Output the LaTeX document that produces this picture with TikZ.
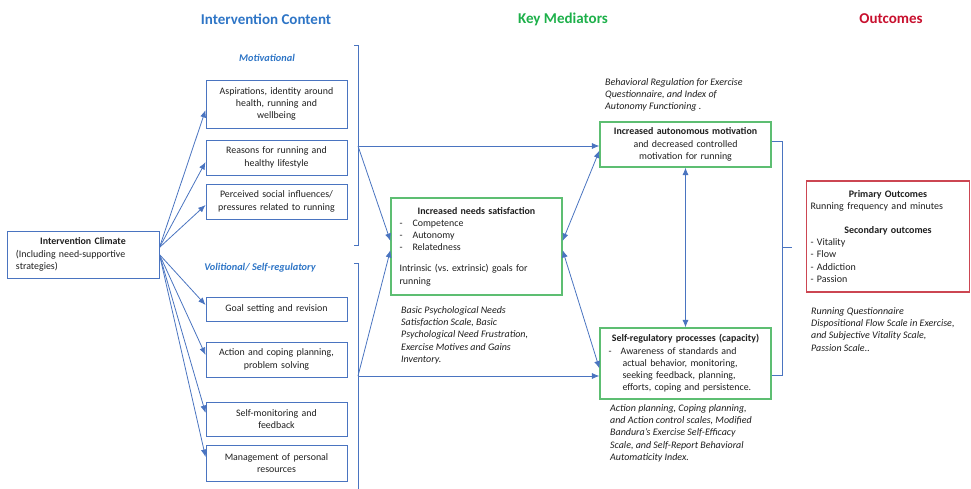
\documentclass[tikz,border=0pt]{standalone}
\usepackage{fontspec}
\setmainfont{Carlito}
\usetikzlibrary{arrows.meta,calc}
\definecolor{cblue}{HTML}{4A74C0}
\definecolor{tblue}{HTML}{2E75C6}
\definecolor{tgreen}{HTML}{1DB04A}
\definecolor{tred}{HTML}{C8102E}
\definecolor{gbord}{HTML}{5DBE72}
\definecolor{rbord}{HTML}{CC4652}
\definecolor{txt}{HTML}{1E1E1E}
\begin{document}
\begin{tikzpicture}[x=1pt,y=-1pt,
  box/.style={draw=cblue, line width=0.9pt, inner sep=0pt, align=center, text=txt,
    font=\fontsize{9.9}{12.3}\selectfont, minimum width=141pt, text width=136pt},
  gbox/.style={draw=gbord, line width=1.1pt, inner sep=0pt, text=txt,
    font=\fontsize{9.9}{12.2}\selectfont, minimum width=171pt, text width=154pt},
  rbox/.style={draw=rbord, line width=1.1pt, inner sep=0pt, text=txt,
    font=\fontsize{10}{12.4}\selectfont, minimum width=163pt, text width=155pt},
  note/.style={anchor=north west, align=left, inner sep=0pt, text=txt,
    font=\fontsize{10}{12.4}\selectfont\itshape},
  head/.style={font=\fontsize{15}{17}\selectfont\bfseries, inner sep=0pt},
  sub/.style={font=\fontsize{10.3}{12}\selectfont\bfseries\itshape, text=tblue, inner sep=0pt},
  con/.style={draw=cblue, line width=0.8pt},
  arr/.style={con, -{Latex[length=7.5pt,width=6pt]}},
  dbl/.style={con, {Latex[length=7.5pt,width=6pt]}-{Latex[length=7.5pt,width=6pt]}}
]
\useasboundingbox (0,0) rectangle (971,489);

% headings
\node[head, text=tblue] (h1) at (266,19) {Intervention Content};
\node[head, text=tgreen] (h2) at (563,19) {Key Mediators};
\node[head, text=tred] (h3) at (891,19) {Outcomes};

% intervention climate
\node[box, minimum width=152pt, minimum height=47pt, text width=134pt, align=left] (clim) at (83,254.5)
  {\makebox[\linewidth][c]{\bfseries Intervention Climate}\\(Including need-supportive\\strategies)};

% sub labels
\node[sub] (mot) at (267,58) {Motivational};
\node[sub] (vol) at (260,268) {Volitional/ Self-regulatory};

% motivational boxes
\node[box, minimum height=48pt] (a1) at (276.5,104) {Aspirations, identity around\\health, running and\\wellbeing};
\node[box, minimum height=35pt] (a2) at (276.5,157.5) {Reasons for running and\\healthy lifestyle};
\node[box, minimum height=35pt] (a3) at (276.5,201.5) {Perceived social influences/\\pressures related to running};

% volitional boxes
\node[box, minimum height=24pt] (b1) at (276.5,309) {Goal setting and revision};
\node[box, minimum height=35pt] (b2) at (276.5,359.5) {Action and coping planning,\\problem solving};
\node[box, minimum height=34pt] (b3) at (276.5,419) {Self-monitoring and\\feedback};
\node[box, minimum height=36pt] (b4) at (276.5,463) {Management of personal\\resources};

% arrows from climate
\draw[arr] ([yshift=7pt]clim.east) -- ([yshift=-6pt]a1.west);
\draw[arr] ([yshift=7pt]clim.east) -- ([yshift=-4.5pt]a2.west);
\draw[arr] ([yshift=7pt]clim.east) -- ([yshift=-3.5pt]a3.west);
\draw[arr] (clim.east) -- ([yshift=4pt]b1.west);
\draw[arr] (clim.east) -- ([yshift=4.5pt]b2.west);
\draw[arr] (clim.east) -- ([yshift=6pt]b3.west);
\draw[arr] (clim.east) -- ([yshift=6pt]b4.west);

% brackets
\coordinate (mt) at (354,45);
\coordinate (mbt) at (358,45);
\coordinate (mb) at (358,146);
\coordinate (mbb) at (358,245);
\coordinate (mbe) at (354,245);
\draw[con] (mt) -- (mbt) -- (mbb) -- (mbe);
\coordinate (vt) at (354,263);
\coordinate (vbt) at (358,263);
\coordinate (vb) at (358,376);
\coordinate (vbb) at (358,492);
\draw[con] (vt) -- (vbt) -- (vbb);

% mediators
\node[gbox, minimum height=97pt, align=left] (needs) at (476.5,246.5)
  {\makebox[\linewidth][c]{\bfseries Increased needs satisfaction}\\
   -\hspace{10pt}Competence\\
   -\hspace{10pt}Autonomy\\
   -\hspace{10pt}Relatedness\\[9pt]
   Intrinsic (vs.\ extrinsic) goals for\\running};
\node[note] (nn) at (401,306) {Basic Psychological Needs\\Satisfaction Scale, Basic\\Psychological Need Frustration,\\Exercise Motives and Gains\\Inventory.};

\node[gbox, minimum height=45pt, align=center, text width=163pt] (auto) at (685.5,144.5)
  {\textbf{Increased autonomous motivation}\\and decreased controlled\\motivation for running};
\node[note] (an) at (605,78) {Behavioral Regulation for Exercise\\Questionnaire, and Index of\\Autonomy Functioning .};

\node[gbox, minimum height=71pt, align=left] (sreg) at (685.5,363.5)
  {\makebox[\linewidth][c]{\bfseries Self-regulatory processes (capacity)}\\
   -\hspace{9pt}Awareness of standards and\\
   \hspace*{14pt}actual behavior, monitoring,\\
   \hspace*{14pt}seeking feedback, planning,\\
   \hspace*{14pt}efforts, coping and persistence.};
\node[note] (sn) at (610,404) {Action planning, Coping planning,\\and Action control scales, Modified\\Bandura's Exercise Self-Efficacy\\Scale, and Self-Report Behavioral\\Automaticity Index.};

% mediator connections
\draw[arr] (mb) -- (mb -| auto.west);
\draw[arr] (mb) -- ([yshift=5.5pt]needs.west);
\draw[arr] (vb) -- ([yshift=-3.5pt]needs.west);
\draw[arr] (vb) -- (vb -| sreg.west);
\draw[dbl] ([yshift=5.5pt]needs.east) -- ([yshift=-6pt]auto.west);
\draw[dbl] ([yshift=-3.5pt]needs.east) -- ([yshift=-5pt]sreg.west);
\draw[dbl] (auto.south) -- (sreg.north);

% right bracket
\coordinate (rb) at (782,247);
\draw[con] ([yshift=3.5pt]auto.east) -| (rb) |- ([yshift=-11.5pt]sreg.east);
\coordinate (rt) at (792,247);
\draw[con] (rb) -- (rt);

% outcomes
\node[rbox, minimum height=111pt, align=left] (out) at (888,236.5)
  {\makebox[\linewidth][c]{\bfseries Primary Outcomes}\\
   Running frequency and minutes\\[11pt]
   \makebox[\linewidth][c]{\bfseries Secondary outcomes}\\
   - Vitality\\- Flow\\- Addiction\\- Passion};
\node[note] (on) at (811,307) {Running Questionnaire\\Dispositional Flow Scale in Exercise,\\and Subjective Vitality Scale,\\Passion Scale..};
\end{tikzpicture}
\end{document}
